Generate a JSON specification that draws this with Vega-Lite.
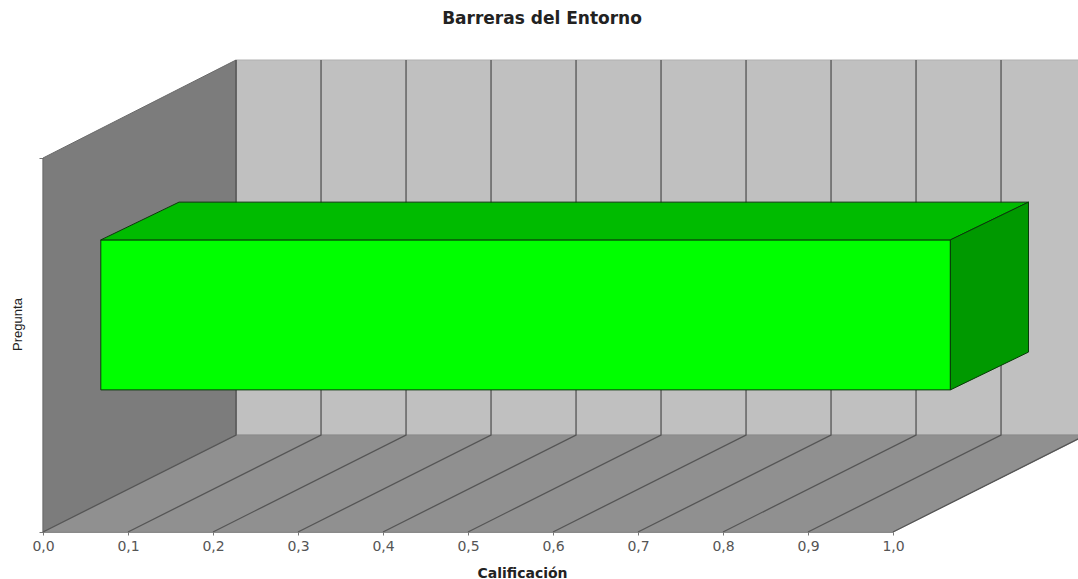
{
"$schema":"https://vega.github.io/schema/vega-lite/v6.json",
"width":850,"height":374,
"autosize":"none",
"padding":{"left":43,"top":158,"right":185,"bottom":47},
"background":"white",
"title":{"text":"Barreras del Entorno","frame":"group","font":"DejaVu Sans","fontWeight":"bold","fontSize":17,"color":"#222222","anchor":"middle","dx":74,"offset":12,"baseline":"bottom"},
"config":{"view":{"stroke":null}},
"datasets":{
"caras":[
{"cara":"pared","n":1,"x":0.2271,"y":0.2594},{"cara":"pared","n":2,"x":1.2271,"y":0.2594},{"cara":"pared","n":3,"x":1.2271,"y":1.262},{"cara":"pared","n":4,"x":0.2271,"y":1.262},{"cara":"pared","n":5,"x":0.2271,"y":0.2594},
{"cara":"lateral","n":1,"x":0,"y":0},{"cara":"lateral","n":2,"x":0.2271,"y":0.2594},{"cara":"lateral","n":3,"x":0.2271,"y":1.262},{"cara":"lateral","n":4,"x":0,"y":1},{"cara":"lateral","n":5,"x":0,"y":0},
{"cara":"suelo","n":1,"x":0,"y":0},{"cara":"suelo","n":2,"x":1,"y":0},{"cara":"suelo","n":3,"x":1.2271,"y":0.2594},{"cara":"suelo","n":4,"x":0.2271,"y":0.2594},{"cara":"suelo","n":5,"x":0,"y":0}
],
"rejilla":[
{"linea":"a0","n":1,"x":0.0,"y":0},{"linea":"a0","n":2,"x":0.2271,"y":0.2594},{"linea":"a0","n":3,"x":0.2271,"y":1.262},
{"linea":"a1","n":1,"x":0.1,"y":0},{"linea":"a1","n":2,"x":0.3271,"y":0.2594},{"linea":"a1","n":3,"x":0.3271,"y":1.262},
{"linea":"a2","n":1,"x":0.2,"y":0},{"linea":"a2","n":2,"x":0.4271,"y":0.2594},{"linea":"a2","n":3,"x":0.4271,"y":1.262},
{"linea":"a3","n":1,"x":0.3,"y":0},{"linea":"a3","n":2,"x":0.5271,"y":0.2594},{"linea":"a3","n":3,"x":0.5271,"y":1.262},
{"linea":"a4","n":1,"x":0.4,"y":0},{"linea":"a4","n":2,"x":0.6271,"y":0.2594},{"linea":"a4","n":3,"x":0.6271,"y":1.262},
{"linea":"a5","n":1,"x":0.5,"y":0},{"linea":"a5","n":2,"x":0.7271,"y":0.2594},{"linea":"a5","n":3,"x":0.7271,"y":1.262},
{"linea":"a6","n":1,"x":0.6,"y":0},{"linea":"a6","n":2,"x":0.8271,"y":0.2594},{"linea":"a6","n":3,"x":0.8271,"y":1.262},
{"linea":"a7","n":1,"x":0.7,"y":0},{"linea":"a7","n":2,"x":0.9271,"y":0.2594},{"linea":"a7","n":3,"x":0.9271,"y":1.262},
{"linea":"a8","n":1,"x":0.8,"y":0},{"linea":"a8","n":2,"x":1.0271,"y":0.2594},{"linea":"a8","n":3,"x":1.0271,"y":1.262},
{"linea":"a9","n":1,"x":0.9,"y":0},{"linea":"a9","n":2,"x":1.1271,"y":0.2594},{"linea":"a9","n":3,"x":1.1271,"y":1.262},
{"linea":"b0","n":1,"x":1.0,"y":0},{"linea":"b0","n":2,"x":1.2271,"y":0.2594}
],
"barra":[
{"cara":"frente","n":1,"x":0.068,"y":0.38},{"cara":"frente","n":2,"x":1.0675,"y":0.38},{"cara":"frente","n":3,"x":1.0675,"y":0.781},{"cara":"frente","n":4,"x":0.068,"y":0.781},{"cara":"frente","n":5,"x":0.068,"y":0.38},
{"cara":"arriba","n":1,"x":0.068,"y":0.781},{"cara":"arriba","n":2,"x":1.0675,"y":0.781},{"cara":"arriba","n":3,"x":1.1594,"y":0.882},{"cara":"arriba","n":4,"x":0.16,"y":0.882},{"cara":"arriba","n":5,"x":0.068,"y":0.781},
{"cara":"lado","n":1,"x":1.0675,"y":0.38},{"cara":"lado","n":2,"x":1.1594,"y":0.481},{"cara":"lado","n":3,"x":1.1594,"y":0.882},{"cara":"lado","n":4,"x":1.0675,"y":0.781},{"cara":"lado","n":5,"x":1.0675,"y":0.38}
]
},
"layer":[
{"data":{"name":"caras"},
 "mark":{"type":"line","strokeWidth":1,"strokeJoin":"miter"},
 "encoding":{
  "x":{"field":"x","type":"quantitative","scale":{"domain":[0,1],"nice":false,"zero":false},
   "axis":{"values":[0,0.1,0.2,0.3,0.4,0.5,0.6,0.7,0.8,0.9,1],"grid":false,"domain":true,"domainColor":"#8a8a8a","tickColor":"#777777","tickSize":3,"labelExpr":"replace(format(datum.value,'.1f'),'.',',')","labelFont":"DejaVu Sans","labelFontSize":14,"labelColor":"#555555","labelPadding":4,"labelFlush":false,"title":"Calificación","titleFont":"DejaVu Sans","titleFontWeight":"bold","titleFontSize":14,"titleColor":"#222222","titleX":479,"titleY":41,"titleBaseline":"middle","titleAlign":"center"}},
  "y":{"field":"y","type":"quantitative","scale":{"domain":[0,1],"nice":false,"zero":false},
   "axis":{"values":[0,1],"grid":false,"labels":false,"domain":true,"domainColor":"#555555","domainWidth":1.5,"tickColor":"#777777","tickSize":4,"title":"Pregunta","titleFont":"Liberation Sans","titleFontWeight":"normal","titleFontSize":13,"titleColor":"#222222","titleX":-26,"titleY":166,"titleBaseline":"middle","titleAlign":"center","titleAngle":270}},
  "order":{"field":"n","type":"quantitative"},
  "fill":{"field":"cara","type":"nominal","legend":null,"scale":{"domain":["pared","lateral","suelo"],"range":["#c0c0c0","#7c7c7c","#909090"]}},
  "stroke":{"field":"cara","type":"nominal","legend":null,"scale":{"domain":["pared","lateral","suelo"],"range":["#b0b0b0","#6a6a6a","#8a8a8a"]}}
 }},
{"data":{"name":"rejilla"},
 "mark":{"type":"line","strokeWidth":1.3,"color":"#555555","strokeJoin":"miter"},
 "encoding":{
  "x":{"field":"x","type":"quantitative"},
  "y":{"field":"y","type":"quantitative"},
  "detail":{"field":"linea","type":"nominal"},
  "order":{"field":"n","type":"quantitative"}
 }},
{"data":{"name":"barra"},
 "mark":{"type":"line","strokeWidth":1,"stroke":"#0a3a0a","strokeJoin":"miter"},
 "encoding":{
  "x":{"field":"x","type":"quantitative"},
  "y":{"field":"y","type":"quantitative"},
  "order":{"field":"n","type":"quantitative"},
  "fill":{"field":"cara","type":"nominal","legend":null,"scale":{"domain":["frente","arriba","lado"],"range":["#00ff00","#00bb00","#009900"]}}
 }}
],
"resolve":{"scale":{"fill":"independent","stroke":"independent"}}
}
